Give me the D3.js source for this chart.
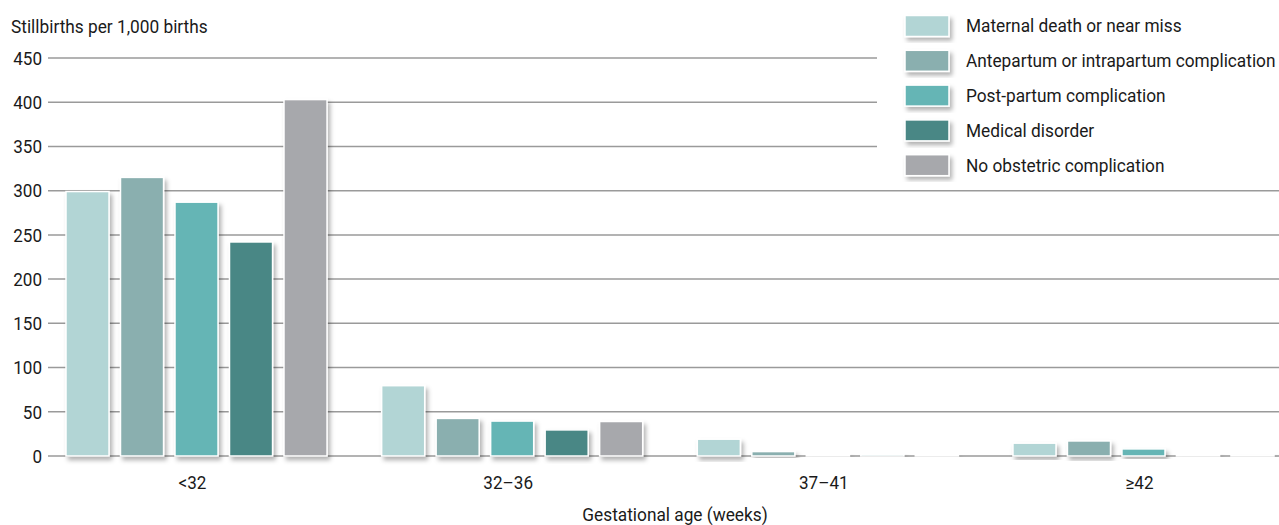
<!DOCTYPE html>
<html><head><meta charset="utf-8">
<script src="https://cdn.jsdelivr.net/npm/d3@7/dist/d3.min.js"></script>
<style>
body{margin:0;background:#fff;}
text{font-family:Roboto,"DejaVu Sans",sans-serif;fill:#1a1a1a;}
</style></head>
<body><svg id="c" width="1279" height="525"></svg>
<script>
const groups = ["<32", "32–36", "37–41", "≥42"];
const series = ["Maternal death or near miss", "Antepartum or intrapartum complication", "Post-partum complication", "Medical disorder", "No obstetric complication"];
const colors = ["#b2d5d5", "#8aafaf", "#65b5b5", "#4a8785", "#a7a8ac"];
const maternal = [299, 79.5, 19, 14.5];
const antepartum = [315, 42.5, 5, 17];
const postpartum = [287, 39.5, 1.5, 8];
const medical = [242, 29.5, 1.8, 1.5];
const noObstetric = [403, 39, 0.8, 1.2];
const yTicks = [0, 50, 100, 150, 200, 250, 300, 350, 400, 450];
const yTitle = "Stillbirths per 1,000 births";
const xTitle = "Gestational age (weeks)";

const values = [maternal, antepartum, postpartum, medical, noObstetric];
const SX = 0.96;   // horizontal condensing of text
const SXT = 0.95;
const FS = "18px";
const svg = d3.select("#c");
const defs = svg.append("defs");
const f = defs.append("filter").attr("id","sh").attr("x","-20%").attr("y","-20%").attr("width","150%").attr("height","150%");
f.append("feDropShadow").attr("dx",2.5).attr("dy",3.5).attr("stdDeviation",2.2).attr("flood-color","#000").attr("flood-opacity",0.3);

const y = d3.scaleLinear().domain([0,450]).range([456,58]);
const x0 = d3.scaleBand().domain(groups).range([66,1274]).paddingInner(0.173).paddingOuter(0);
const x1 = d3.scaleBand().domain(series).range([0,x0.bandwidth()]).paddingInner(0.21).paddingOuter(0);

function txt(x, yy, s, anchor, sx){
  return svg.append("text").attr("transform",`translate(${x},${yy}) scale(${sx||SX},1)`)
    .attr("dy","0.35em").attr("text-anchor",anchor||"start").style("font-size",FS).text(s);
}

const yAxis = d3.axisLeft(y).tickValues(yTicks).tickSize(0).tickPadding(6);
const ga = svg.append("g").attr("transform","translate(48,0)").call(yAxis);
ga.select(".domain").remove();
ga.selectAll("text").attr("x",-6/SXT).attr("transform",`scale(${SXT},1)`).style("font-size",FS).attr("fill","#1a1a1a").attr("dy","0.35em");
svg.append("g").selectAll("line").data(yTicks).join("line")
  .attr("x1",48).attr("x2",d=> d>=350 ? 877 : 1279)
  .attr("y1",d=>y(d)).attr("y2",d=>y(d))
  .attr("stroke","#9a9a9a").attr("stroke-width",1.5);

const gg = svg.append("g").selectAll("g").data(groups).join("g")
  .attr("transform",d=>`translate(${x0(d)},0)`);
gg.selectAll("rect").data((g,gi)=>series.map((s,si)=>({s,si,v:values[si][gi]}))).join("rect")
  .attr("x",d=>x1(d.s)).attr("width",x1.bandwidth())
  .attr("y",d=>y(d.v)).attr("height",d=>y(0)-y(d.v))
  .attr("fill",d=>colors[d.si]).attr("stroke","#fff").attr("stroke-width",1.5)
  .attr("filter","url(#sh)");

const xAxis = d3.axisBottom(x0).tickSize(0).tickPadding(0);
const gx = svg.append("g").attr("transform","translate(-4,483)").call(xAxis);
gx.select(".domain").remove();
gx.selectAll("text").attr("dy","0.35em").attr("transform",`scale(${SXT},1)`).style("font-size",FS).attr("fill","#1a1a1a");

txt(675, 515, xTitle, "middle");
txt(11, 27, yTitle, "start");

const lg = svg.append("g").selectAll("g").data(series).join("g")
  .attr("transform",(d,i)=>`translate(905,${26+i*34.8})`);
lg.append("rect").attr("x",0).attr("y",-10.5).attr("width",44).attr("height",21)
  .attr("fill",(d,i)=>colors[i]).attr("stroke","#fff").attr("stroke-width",1.5).attr("filter","url(#sh)");
lg.append("text").attr("transform",`translate(61,0) scale(${SX},1)`).attr("dy","0.35em").style("font-size",FS).text(d=>d);
</script></body></html>
